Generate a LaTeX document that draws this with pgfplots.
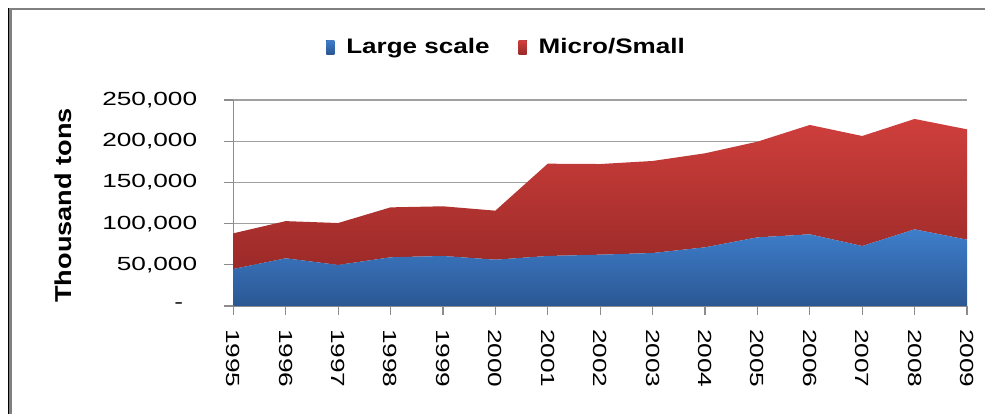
\documentclass[border=0pt]{standalone}
\usepackage{fontspec}
\setmainfont{Liberation Sans}[FakeStretch=1.38]
\newfontfamily\legfont{Liberation Sans}[FakeStretch=1.24]
\newfontfamily\ylabfont{Liberation Sans}[FakeStretch=1.18]
\usepackage{pgfplots}
\pgfplotsset{compat=1.18}
\usepackage{pgfplotstable}

\definecolor{blueTop}{HTML}{3E7ECB}
\definecolor{blueBot}{HTML}{2B5793}
\definecolor{redTop}{HTML}{CF3F3C}
\definecolor{redBot}{HTML}{9B2A28}
\definecolor{gridc}{HTML}{A0A0A0}
\definecolor{axisc}{HTML}{8C8C8C}

\pgfplotstableread{
x large small
0 44900 43300
1 57900 45100
2 49800 50900
3 59100 60600
4 60700 60300
5 56200 59500
6 60700 112000
7 62300 110000
8 64300 111700
9 71200 114100
10 83300 116100
11 87000 132700
12 72800 133500
13 93000 134000
14 80500 133900
}\data

\begin{document}
\begin{tikzpicture}
\path[use as bounding box] (0,0) rectangle (985bp,414bp);
\fill[white] (0,0) rectangle (985bp,414bp);
\begin{axis}[
  scale only axis,
  width=733.7bp, height=206bp,
  at={(233.3bp,108bp)}, anchor=south west,
  xmin=0, xmax=14, ymin=0, ymax=250000,
  stack plots=y,
  axis x line*=bottom, axis y line*=left,
  axis line style={-, draw=axisc, line width=1.2bp},
  ytick={0,50000,100000,150000,200000,250000},
  yticklabels={{-\hspace*{14bp}},{50,000},{100,000},{150,000},{200,000},{250,000}},
  scaled y ticks=false,
  ymajorgrids,
  grid style={gridc, line width=1.2bp},
  xtick={0,1,2,3,4,5,6,7,8,9,10,11,12,13,14},
  xticklabels={1995,1996,1997,1998,1999,2000,2001,2002,2003,2004,2005,2006,2007,2008,2009},
  tick align=outside,
  major tick length=9bp,
  tick style={axisc, line width=1.2bp},
  tick label style={font=\fontsize{19bp}{22bp}\selectfont},
  xticklabel style={rotate=-90, anchor=west, inner sep=0pt, xshift=14bp},
  yticklabel style={anchor=east, inner sep=0pt, xshift=-27bp},
  legend columns=2,
  legend style={at={(0.3724,1.257)}, anchor=center, draw=none, fill=none,
    font=\legfont\bfseries\fontsize{21bp}{24bp}\selectfont,
    /tikz/every odd column/.append style={column sep=10bp},
    /tikz/every even column/.append style={column sep=27bp}},
  legend image code/.code={\fill[#1] (0bp,-7bp) rectangle (8bp,7bp);},
]
\addplot[draw=none, top color=blueTop, bottom color=blueBot] table[x=x, y=large] {\data} \closedcycle;
\addlegendentry{Large scale}
\addplot[draw=none, top color=redTop, bottom color=redBot] table[x=x, y=small] {\data} \closedcycle;
\addlegendentry{Micro/Small}
\end{axis}
\node[rotate=90, font=\ylabfont\bfseries\fontsize{23bp}{26bp}\selectfont] at (63bp,208.5bp) {Thousand tons};
\draw[black, line width=1.2bp] (8.6bp,0) -- (8.6bp,406bp);
\draw[gray, line width=2.5bp] (10.5bp,0) -- (10.5bp,406bp);
\draw[gray, line width=2.5bp] (9bp,405bp) -- (985bp,405bp);
\end{tikzpicture}
\end{document}
